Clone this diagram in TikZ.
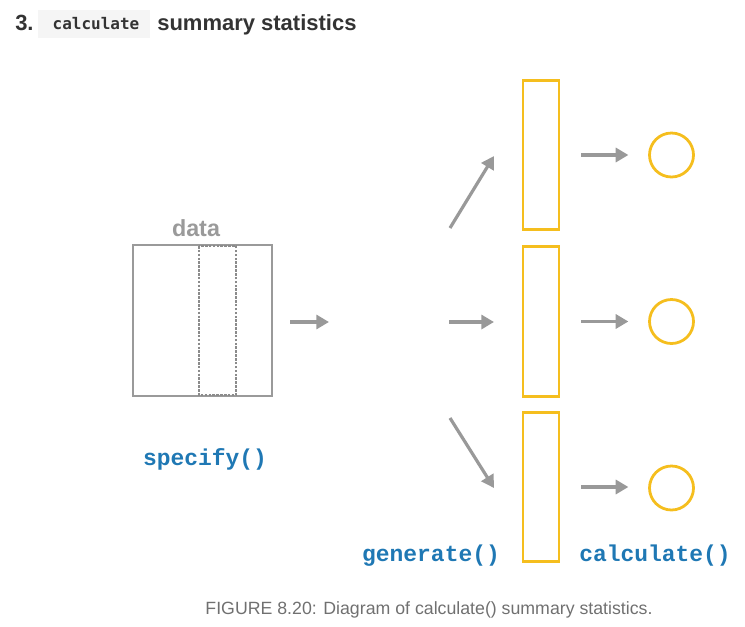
\documentclass[tikz,border=0pt]{standalone}
\usepackage{fontspec}
\setmainfont{Liberation Sans}
\newfontfamily\codefont{DejaVu Sans Mono}
\newfontfamily\funcfont{Liberation Mono}
\usetikzlibrary{arrows.meta}
\definecolor{boxgray}{HTML}{9A9A9A}
\definecolor{arrowgray}{HTML}{999999}
\definecolor{sampyellow}{HTML}{F5BE1E}
\definecolor{funcblue}{HTML}{1F78B4}
\definecolor{codebg}{HTML}{F5F5F5}
\definecolor{titletext}{HTML}{333333}
\definecolor{captiontext}{HTML}{707070}
\begin{document}
\begin{tikzpicture}[x=0.75pt,y=-0.75pt,
  flow/.style={draw=arrowgray,line width=2.4pt,-{Triangle[length=9.5pt,width=10.5pt]}},
  sample/.style={draw=sampyellow,line width=2.1pt,minimum width=27pt,minimum height=112pt,inner sep=0pt},
  stat/.style={circle,draw=sampyellow,line width=2.1pt,minimum size=33pt,inner sep=0pt},
  func/.style={text=funcblue,font=\funcfont\bfseries\fontsize{17.2}{19}\selectfont,inner sep=0pt},
  heading/.style={text=titletext,font=\bfseries\fontsize{16.5}{19}\selectfont,inner sep=0pt,anchor=base west}]
\useasboundingbox (0,0) rectangle (745,626);

% heading
\node[heading] (num) at (15,30) {3.};
\node[fill=codebg,inner sep=0pt,minimum width=84pt,minimum height=21pt] (code) at (94,24) {};
\node[text=titletext,font=\codefont\bfseries\fontsize{12}{14}\selectfont,anchor=base,inner sep=0pt] (codetxt) at (96,29) {calculate};
\node[heading] (title) at (157,30) {summary statistics};

% data table with the selected variable column
\node[draw=boxgray,line width=1.8pt,minimum width=104pt,minimum height=113pt,inner sep=0pt] (data) at (202.5,320.5) {};
\draw[boxgray!90!black,line width=1.9pt,densely dotted] (199,246) rectangle (236,395);
\node[text=boxgray,font=\bfseries\fontsize{17.5}{20}\selectfont,inner sep=0pt,anchor=base] (datalbl) at (196,236) {data};
\node[func] (specify) at (205,459) {specify()};

% resamples
\node[sample] (s1) at (541,155) {};
\node[sample] (s2) at (541,321.5) {};
\node[sample] (s3) at (541,487) {};

% statistics
\node[stat] (c1) at (671.5,155) {};
\node[stat] (c2) at (671.5,321.5) {};
\node[stat] (c3) at (671.5,488) {};

% arrow anchors
\coordinate (a0s) at (290,322); \coordinate (a0e) at (329,322);
\coordinate (g1s) at (450,228); \coordinate (g1e) at (494,156);
\coordinate (g2s) at (449,322); \coordinate (g2e) at (494,322);
\coordinate (g3s) at (450,418); \coordinate (g3e) at (494,488);
\draw[flow] (a0s) -- (a0e);
\draw[flow] (g1s) -- (g1e);
\draw[flow] (g2s) -- (g2e);
\draw[flow] (g3s) -- (g3e);
\draw[flow] (s1.east) ++(21,0) coordinate (k1) -- ++(47,0) coordinate (k1e);
\draw[flow] (s2.east) ++(21,0) coordinate (k2) -- ++(47,0) coordinate (k2e);
\draw[flow] (s3.east) ++(21,0) coordinate (k3) -- ++(47,0) coordinate (k3e);

\node[func] (generate) at (431,556) {generate()};
\node[func] (calculate) at (655,556) {calculate()};

% caption
\node[text=captiontext,font=\fontsize{13.3}{15}\selectfont,inner sep=0pt,anchor=base] (caption) at (429,614) {FIGURE 8.20: Diagram of calculate() summary statistics.};
\end{tikzpicture}
\end{document}
